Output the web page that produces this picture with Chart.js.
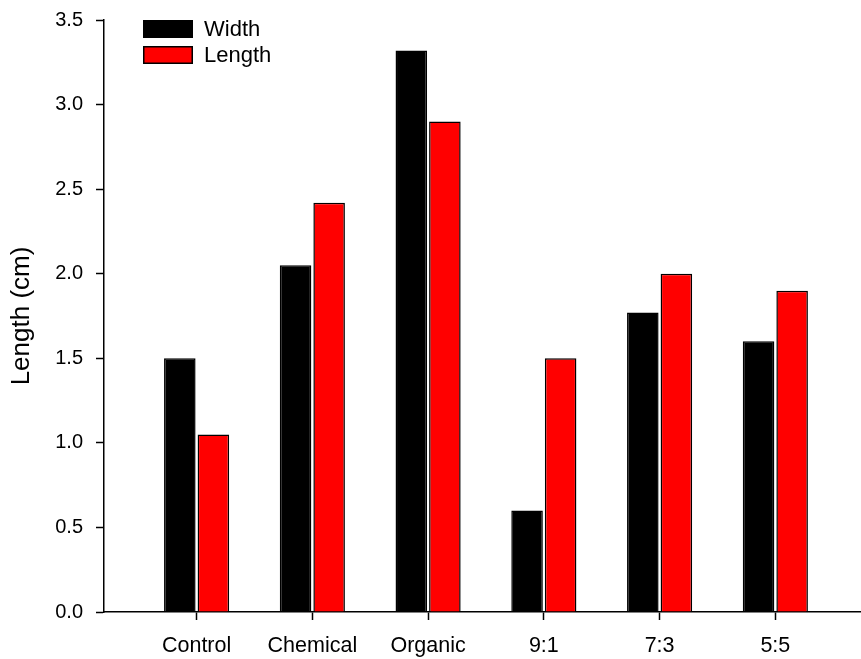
<!DOCTYPE html>
<html>
<head>
<meta charset="utf-8">
<script src="https://cdn.jsdelivr.net/npm/chart.js@4/dist/chart.umd.min.js"></script>
<style>
  html, body { margin: 0; padding: 0; background: #ffffff; }
  #wrap { width: 861px; height: 659px; }
</style>
</head>
<body>
<div id="wrap"><canvas id="chart" width="861" height="659"></canvas></div>
<script>
// Treatments along the x axis
const categories = ['Control', 'Chemical', 'Organic', '9:1', '7:3', '5:5'];
// Measured sizes (cm)
const widthValues  = [1.50, 2.05, 3.32, 0.60, 1.77, 1.60];
const lengthValues = [1.05, 2.42, 2.90, 1.50, 2.00, 1.90];
// Y axis tick values
const yTicks = [0, 0.5, 1.0, 1.5, 2.0, 2.5, 3.0, 3.5];

const FONT = '"Liberation Sans", Arial, sans-serif';

// Bars are placed at positions 1..n on a numeric x scale
const toPoints = vals => vals.map((v, i) => ({ x: i + 1, y: v }));

// Vertical legend with wide swatches in the upper-left of the plot
const boxLegend = {
  id: 'boxLegend',
  afterDraw(chart) {
    const ctx = chart.ctx;
    const x0 = chart.chartArea.left + 39;
    const y0 = chart.chartArea.top;
    const bw = 50, bh = 18, gap = 8;
    ctx.save();
    ctx.font = '22px ' + FONT;
    ctx.textBaseline = 'middle';
    ctx.textAlign = 'left';
    chart.data.datasets.forEach((ds, i) => {
      const y = y0 + i * (bh + gap);
      ctx.fillStyle = ds.backgroundColor;
      ctx.fillRect(x0, y, bw, bh);
      ctx.lineWidth = 1.5;
      ctx.strokeStyle = '#000';
      ctx.strokeRect(x0 + 0.75, y + 0.75, bw - 1.5, bh - 1.5);
      ctx.fillStyle = '#000';
      ctx.fillText(ds.label, x0 + bw + 11, y + bh / 2 + 1);
    });
    ctx.restore();
  }
};

new Chart(document.getElementById('chart'), {
  type: 'bar',
  data: {
    datasets: [
      {
        label: 'Width',
        data: toPoints(widthValues),
        backgroundColor: '#000000',
        borderColor: '#000000',
        borderWidth: 1.5
      },
      {
        label: 'Length',
        data: toPoints(lengthValues),
        backgroundColor: '#ff0000',
        borderColor: '#000000',
        borderWidth: 1.5
      }
    ]
  },
  options: {
    responsive: false,
    animation: false,
    devicePixelRatio: 1,
    categoryPercentage: 0.58,
    barPercentage: 0.94,
    layout: { padding: { top: 20, right: 0, left: 0, bottom: 0 } },
    plugins: {
      legend: { display: false },
      tooltip: { enabled: false }
    },
    scales: {
      x: {
        type: 'linear',
        offset: false,
        min: 0.2,
        max: 6.74,
        afterBuildTicks(scale) {
          scale.ticks = categories.map((c, i) => ({ value: i + 1 }));
        },
        afterFit(scale) {
          scale.height = 47;
          scale.paddingLeft = 0;
          scale.paddingRight = 0;
        },
        ticks: {
          autoSkip: false,
          maxRotation: 0,
          padding: 13,
          color: '#000',
          font: { family: FONT, size: 21.5 },
          callback: v => categories[Math.round(v) - 1] ?? ''
        },
        grid: {
          offset: false,
          drawOnChartArea: false,
          drawTicks: true,
          tickLength: 8,
          tickWidth: 1.5,
          tickColor: '#000'
        },
        border: { display: true, color: '#000', width: 1.5 }
      },
      y: {
        min: 0,
        max: 3.5,
        afterBuildTicks(scale) {
          scale.ticks = yTicks.map(v => ({ value: v }));
        },
        afterFit(scale) {
          scale.width = 104;
          scale.paddingTop = 0;
          scale.paddingBottom = 0;
        },
        ticks: {
          padding: 13,
          color: '#000',
          font: { family: FONT, size: 20 },
          callback: v => Number(v).toFixed(1)
        },
        grid: {
          drawOnChartArea: false,
          drawTicks: true,
          tickLength: 8,
          tickWidth: 1.5,
          tickColor: '#000'
        },
        border: { display: true, color: '#000', width: 1.5 },
        title: {
          display: true,
          text: 'Length (cm)',
          color: '#000',
          font: { family: FONT, size: 26 },
          padding: { top: 6, bottom: 0 }
        }
      }
    }
  },
  plugins: [boxLegend]
});
</script>
</body>
</html>
